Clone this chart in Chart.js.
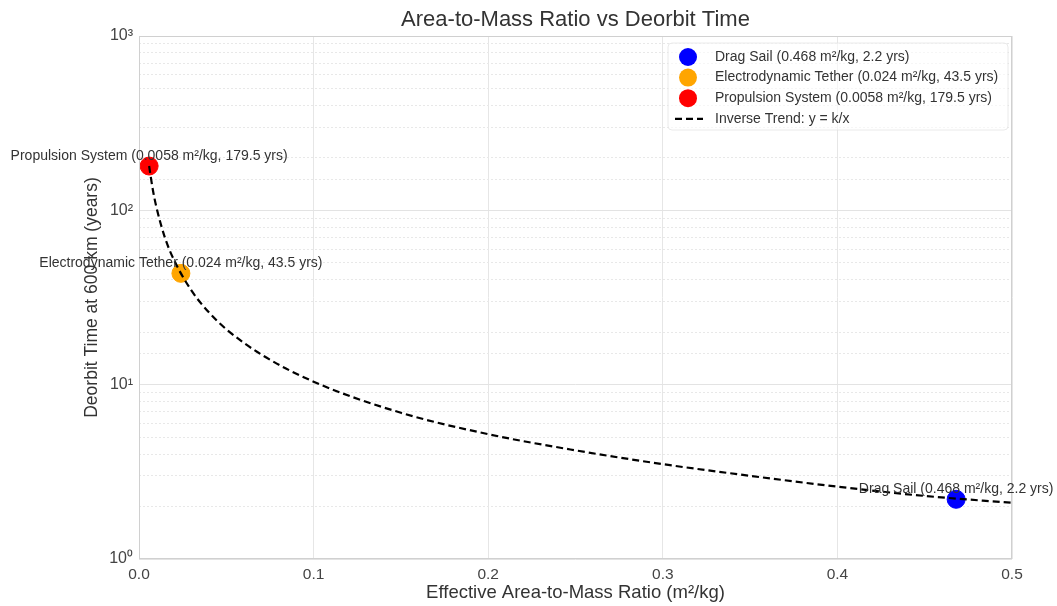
<!DOCTYPE html>
<html>
<head>
<meta charset="utf-8">
<script src="https://cdn.jsdelivr.net/npm/chart.js@4/dist/chart.umd.min.js"></script>
<style>
  html, body { margin: 0; padding: 0; background: #fff; }
  #wrap { width: 1057px; height: 606px; }
</style>
</head>
<body>
<div id="wrap"><canvas id="chart" width="1057" height="606"></canvas></div>
<script>
// systems (area-to-mass ratio in m²/kg, deorbit time in years)
const systemNames = ["Drag Sail", "Electrodynamic Tether", "Propulsion System"];
const systemRatio = [0.468, 0.024, 0.0058];
const systemYears = [2.2, 43.5, 179.5];
const systemColors = ["#0000ff", "#ffa500", "#ff0000"];

// dashed inverse trend
const trendX = [0.0058, 0.008, 0.01, 0.015, 0.02, 0.03, 0.04, 0.05, 0.07, 0.1, 0.15, 0.2, 0.25, 0.3, 0.35, 0.4, 0.45, 0.5];
const trendY = [179.5, 130, 104, 69, 52, 34.7, 26, 20.8, 14.9, 10.4, 6.9, 5.2, 4.2, 3.5, 3.0, 2.6, 2.3, 2.1];

const xTicks = [0, 0.1, 0.2, 0.3, 0.4, 0.5];
const yDecades = [1, 10, 100, 1000];

const chartTitle = "Area-to-Mass Ratio vs Deorbit Time";
const FONT = "'Liberation Sans', Arial, sans-serif";
const SUP = ["⁰", "¹", "²", "³"];

const label = i => systemNames[i] + " (" + systemRatio[i] + " m²/kg, " + systemYears[i] + " yrs)";

const isDecade = v => yDecades.some(d => Math.abs(d - v) < 1e-9);

const overlay = {
  id: "overlay",
  afterDatasetsDraw(chart) {
    const { ctx, chartArea: a, scales: { x, y } } = chart;
    ctx.save();
    // frame
    ctx.strokeStyle = "#d0d0d0";
    ctx.lineWidth = 1;
    ctx.strokeRect(a.left + 0.5, a.top + 0.5, a.right - a.left - 1, a.bottom - a.top - 1);

    // title, centred over the plot area
    ctx.font = "22px " + FONT;
    ctx.fillStyle = "#333";
    ctx.textAlign = "center";
    ctx.textBaseline = "middle";
    ctx.fillText(chartTitle, (a.left + a.right) / 2, 20);

    // point annotations
    ctx.font = "14px " + FONT;
    ctx.textBaseline = "alphabetic";
    systemNames.forEach((n, i) => {
      const px = x.getPixelForValue(systemRatio[i]);
      const py = y.getPixelForValue(systemYears[i]);
      ctx.fillText(label(i), px, py - 6);
    });

    // legend
    const lx = 668, ly = 43, lw = 340, lh = 87;
    ctx.fillStyle = "rgba(255,255,255,0.6)";
    ctx.strokeStyle = "rgba(225,225,225,0.7)";
    ctx.beginPath();
    ctx.roundRect(lx, ly, lw, lh, 4);
    ctx.fill();
    ctx.stroke();
    const rows = [57, 77.6, 98.2, 118.8];
    ctx.textAlign = "left";
    ctx.textBaseline = "middle";
    systemNames.forEach((n, i) => {
      ctx.fillStyle = systemColors[i];
      ctx.beginPath();
      ctx.arc(688, rows[i], 9, 0, Math.PI * 2);
      ctx.fill();
      ctx.fillStyle = "#333";
      ctx.fillText(label(i), 715, rows[i]);
    });
    ctx.strokeStyle = "#000";
    ctx.lineWidth = 2.2;
    ctx.setLineDash([7, 4]);
    ctx.beginPath();
    ctx.moveTo(675, rows[3]);
    ctx.lineTo(703, rows[3]);
    ctx.stroke();
    ctx.setLineDash([]);
    ctx.fillStyle = "#333";
    ctx.fillText("Inverse Trend: y = k/x", 715, rows[3]);
    ctx.restore();
  }
};

const datasets = systemNames.map((n, i) => ({
  label: label(i),
  data: [{ x: systemRatio[i], y: systemYears[i] }],
  backgroundColor: systemColors[i],
  borderColor: systemColors[i],
  pointRadius: 9,
  pointHoverRadius: 9,
  showLine: false,
  order: 1
}));

datasets.push({
  label: "Inverse Trend: y = k/x",
  data: trendX.map((v, i) => ({ x: v, y: trendY[i] })),
  borderColor: "#000",
  borderWidth: 2.2,
  borderDash: [7, 4],
  pointRadius: 0,
  showLine: true,
  fill: false,
  cubicInterpolationMode: "monotone",
  order: 0
});

new Chart(document.getElementById("chart"), {
  type: "scatter",
  data: { datasets },
  options: {
    responsive: false,
    animation: false,
    layout: { padding: { left: 0, right: 45, top: 36, bottom: 0 } },
    plugins: {
      legend: { display: false },
      tooltip: { enabled: false },
      title: { display: false }
    },
    scales: {
      x: {
        type: "linear",
        min: 0,
        max: 0.5,
        afterBuildTicks: s => { s.ticks = xTicks.map(v => ({ value: v })); },
        afterFit: s => { s.height = 47; },
        ticks: {
          color: "#444",
          padding: 6,
          font: { family: FONT, size: 15.5 },
          callback: v => v.toFixed(1)
        },
        grid: { color: "#e6e6e6", drawTicks: false },
        border: { display: false },
        title: {
          display: true,
          text: "Effective Area-to-Mass Ratio (m²/kg)",
          color: "#333",
          font: { family: FONT, size: 18.5 },
          padding: { top: 0, bottom: 2 }
        }
      },
      y: {
        type: "logarithmic",
        min: 1,
        max: 1000,
        afterFit: s => { s.width = 139; },
        ticks: {
          color: "#444",
          padding: 6,
          autoSkip: false,
          font: { family: FONT, size: 16 },
          callback: v => {
            if (!isDecade(v)) return "";
            return "10" + SUP[Math.round(Math.log10(v))];
          }
        },
        grid: {
          drawTicks: false,
          color: c => isDecade(c.tick.value) ? "#e3e3e3" : "#e8e8e8"
        },
        border: {
          display: false,
          dash: c => isDecade(c.tick.value) ? [] : [2, 2]
        },
        title: {
          display: true,
          text: "Deorbit Time at 600 km (years)",
          color: "#333",
          font: { family: FONT, size: 17.5 },
          padding: { top: 82, bottom: 0 }
        }
      }
    }
  },
  plugins: [overlay]
});
</script>
</body>
</html>
